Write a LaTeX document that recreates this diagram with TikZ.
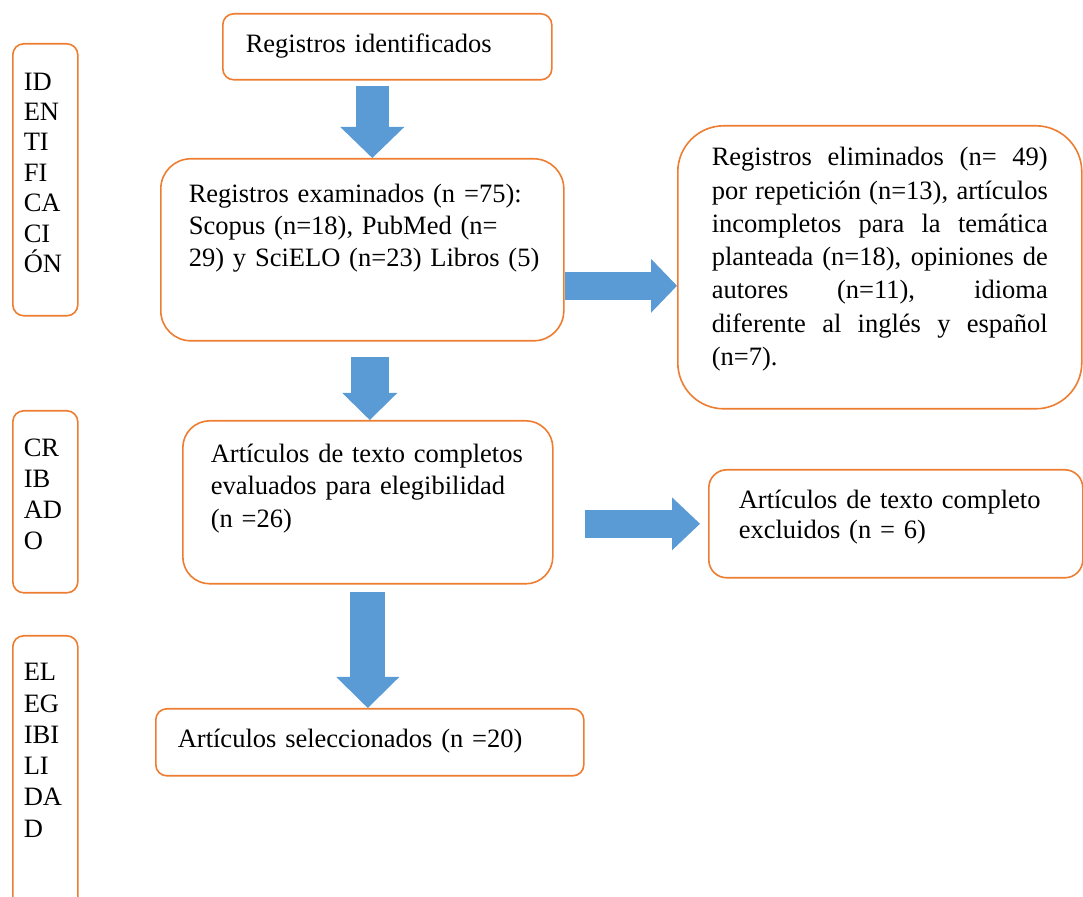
\documentclass[tikz,border=0pt]{standalone}
\usepackage{fontspec}
\setmainfont{Liberation Serif}
\usetikzlibrary{arrows.meta}
\definecolor{naranja}{HTML}{ED7D31}
\definecolor{azul}{HTML}{5B9BD5}

\begin{document}
\begin{tikzpicture}[x=0.5pt, y=-0.5pt]
\tikzset{caja/.style={draw=naranja, line width=0.8pt, fill=white, anchor=north west, inner ysep=0pt, align=left, font=\fontsize{13.25}{16}\selectfont}}
\tikzset{flecha/.style n args={3}{draw=azul, line width=#1, -{Triangle[width=#2, length=#3, line width=0pt]}}}
\useasboundingbox (0, 0) rectangle (1083, 897);
\clip (0, 0) rectangle (1083, 897);
% columna de fases
\node[caja, rounded corners=5.5pt, inner xsep=5.5pt, text width=21.5pt, text height=23.15pt, text depth=112.85pt, font=\fontsize{13.25}{15.2}\selectfont] (L1) at (12, 43) {ID\\EN\\TI\\FI\\CA\\CI\\ÓN};
\node[caja, rounded corners=5.5pt, inner xsep=5.5pt, text width=21.5pt, text height=23pt, text depth=68pt, font=\fontsize{13.25}{15.4}\selectfont] (L2) at (12, 410) {CR\\IB\\AD\\O};
\node[caja, rounded corners=5.5pt, inner xsep=5.5pt, text width=21.5pt, text height=22.5pt, text depth=117.5pt, font=\fontsize{13.25}{15.65}\selectfont] (L3) at (12, 635) {EL\\EG\\IBI\\LI\\DA\\D};
% cajas del flujo
\node[caja, rounded corners=5.5pt, inner xsep=11.5pt, text width=141.5pt, text height=19.35pt, text depth=13.65pt] (B1) at (222, 13) {Registros identificados};
\node[caja, rounded corners=15pt, inner xsep=14pt, text width=173.5pt, text height=22pt, text depth=69pt] (B2) at (160, 158) {\mbox{Registros examinados (n =75):}\\\mbox{Scopus (n=18), PubMed (n=}\\\mbox{29) y SciELO (n=23) Libros (5)}};
\node[caja, rounded corners=23pt, inner xsep=17pt, text width=168pt, text height=20pt, text depth=121.5pt, align=justify, font=\fontsize{13.25}{16.65}\selectfont] (B3) at (677, 125) {Registros eliminados (n= 49)\linebreak por repetición (n=13), artículos\linebreak incompletos para la temática\linebreak planteada (n=18), opiniones de\linebreak autores (n=11), idioma\linebreak diferente al inglés y español\linebreak (n=7).};
\node[caja, rounded corners=13.5pt, inner xsep=14pt, text width=157pt, text height=20.85pt, text depth=60.65pt, font=\fontsize{13.25}{16.25}\selectfont] (B4) at (182, 420) {Artículos de texto completos\\evaluados para elegibilidad\\(n =26)};
\node[caja, rounded corners=9pt, inner xsep=15pt, text width=157pt, text height=19.5pt, text depth=34.5pt, font=\fontsize{13.25}{15}\selectfont] (B5) at (708, 469) {Artículos de texto completo\\excluidos (n = 6)};
\node[caja, rounded corners=5.5pt, inner xsep=11pt, text width=192pt, text height=19.35pt, text depth=14.15pt] (B6) at (155, 708) {Artículos seleccionados (n =20)};
% flechas
\draw[flecha={16.5pt}{32pt}{15.5pt}] ([xshift=-7.5pt, yshift=-2.5pt]B1.south) coordinate (a1) -- (a1 |- B2.north);
\draw[flecha={14pt}{27pt}{13pt}] ([yshift=-18pt]B2.east) coordinate (a2) -- (a2 -| B3.west);
\draw[flecha={19pt}{27.5pt}{13.5pt}] ([xshift=3.75pt, yshift=-7.5pt]B2.south) coordinate (a3) -- (a3 |- B4.north);
\draw[flecha={14pt}{26.5pt}{14pt}, shorten >=4pt] ([xshift=15.5pt, yshift=-10.75pt]B4.east) coordinate (a4) -- (a4 -| B5.west);
\draw[flecha={17.5pt}{31.5pt}{15.5pt}] ([yshift=-3.5pt]B4.south) coordinate (a5) -- (a5 |- B6.north);
\end{tikzpicture}
\end{document}
